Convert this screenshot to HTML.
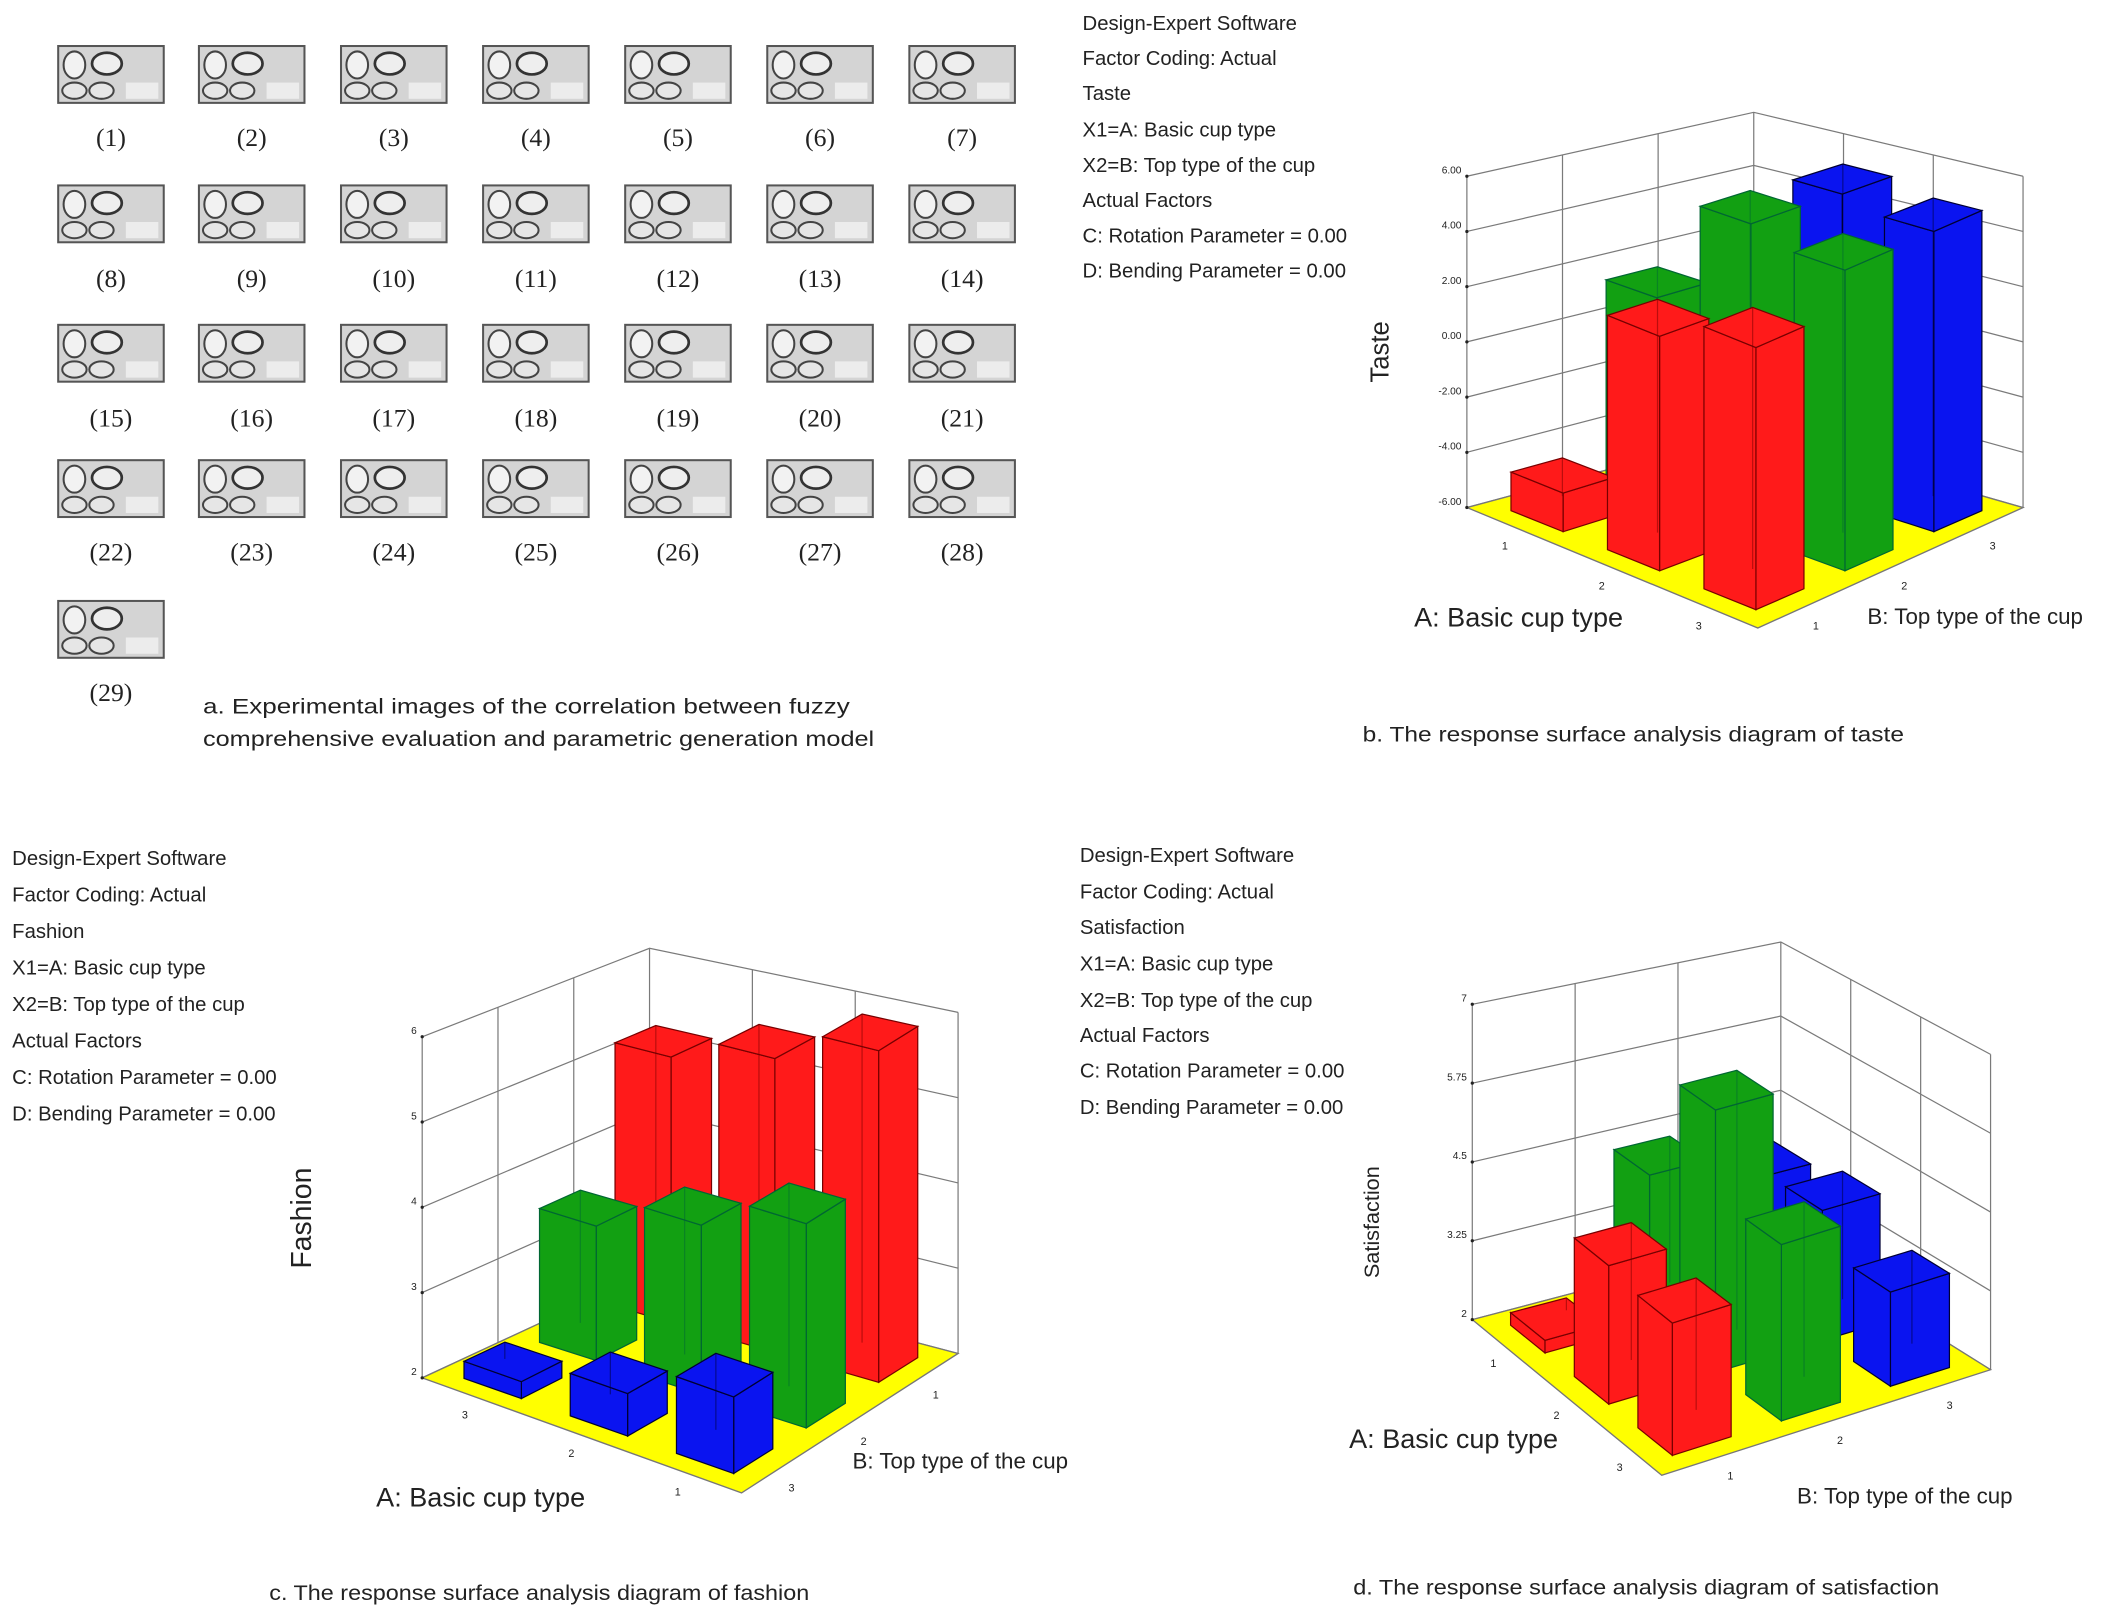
<!DOCTYPE html>
<html><head><meta charset="utf-8">
<style>
html,body{margin:0;padding:0;background:#fff;}
svg{display:block;}
text{font-family:"Liberation Sans",sans-serif;fill:#222;}
.serif{font-family:"Liberation Serif",serif;}
</style></head>
<body>
<svg id="root" width="2111" height="1612" viewBox="0 0 1560 1191" preserveAspectRatio="none" xmlns="http://www.w3.org/2000/svg">
<rect x="0" y="0" width="1560" height="1191" fill="#fff"/>
<g id="thumbs"></g>
<g>
<text x="150" y="527" font-size="16" textLength="478" lengthAdjust="spacingAndGlyphs">a. Experimental images of the correlation between fuzzy</text>
<text x="150" y="551" font-size="16" textLength="496" lengthAdjust="spacingAndGlyphs">comprehensive evaluation and parametric generation model</text>
</g>
<text x="1007" y="548" font-size="16" textLength="400" lengthAdjust="spacingAndGlyphs">b. The response surface analysis diagram of taste</text>
<text x="199" y="1182" font-size="16" textLength="399" lengthAdjust="spacingAndGlyphs">c. The response surface analysis diagram of fashion</text>
<text x="1000" y="1178" font-size="16" textLength="433" lengthAdjust="spacingAndGlyphs">d. The response surface analysis diagram of satisfaction</text>

<g font-size="15">
<text x="800" y="22">Design-Expert Software</text><text x="800" y="48">Factor Coding: Actual</text><text x="800" y="74">Taste</text><text x="800" y="101">X1=A: Basic cup type</text><text x="800" y="127">X2=B: Top type of the cup</text><text x="800" y="153">Actual Factors</text><text x="800" y="179">C: Rotation Parameter = 0.00</text><text x="800" y="205">D: Bending Parameter = 0.00</text>
</g>
<g font-size="15">
<text x="9" y="639">Design-Expert Software</text><text x="9" y="666">Factor Coding: Actual</text><text x="9" y="693">Fashion</text><text x="9" y="720">X1=A: Basic cup type</text><text x="9" y="747">X2=B: Top type of the cup</text><text x="9" y="774">Actual Factors</text><text x="9" y="801">C: Rotation Parameter = 0.00</text><text x="9" y="828">D: Bending Parameter = 0.00</text>
</g>
<g font-size="15">
<text x="798" y="637">Design-Expert Software</text><text x="798" y="664">Factor Coding: Actual</text><text x="798" y="690">Satisfaction</text><text x="798" y="717">X1=A: Basic cup type</text><text x="798" y="744">X2=B: Top type of the cup</text><text x="798" y="770">Actual Factors</text><text x="798" y="796">C: Rotation Parameter = 0.00</text><text x="798" y="823">D: Bending Parameter = 0.00</text>
</g>

<text transform="translate(1026,260) rotate(-90)" font-size="19" text-anchor="middle">Taste</text>
<text x="1045" y="463" font-size="20">A: Basic cup type</text>
<text x="1380" y="461" font-size="16.5">B: Top type of the cup</text>
<text transform="translate(230,900) rotate(-90)" font-size="21" text-anchor="middle">Fashion</text>
<text x="278" y="1113" font-size="20">A: Basic cup type</text>
<text x="630" y="1085" font-size="16.5">B: Top type of the cup</text>
<text transform="translate(1019,903) rotate(-90)" font-size="16" text-anchor="middle">Satisfaction</text>
<text x="997" y="1070" font-size="20">A: Basic cup type</text>
<text x="1328" y="1111" font-size="16.5">B: Top type of the cup</text>

<g id="chartB"></g>
<g id="chartC"></g>
<g id="chartD"></g>
</svg>
<script>
// ---- data ----
const tasteTicks = [-6, -4, -2, 0, 2, 4, 6];
const tasteTickLabels = ["-6.00","-4.00","-2.00","0.00","2.00","4.00","6.00"];
const tasteALabels = ["1","2","3"];
const tasteBLabels = ["1","2","3"];
const tasteRow1 = [-4.6, 2.5, 3.5];   // red
const tasteRow2 = [1.5, 5.4, 4.9];    // green
const tasteRow3 = [1.0, 5.3, 4.9];    // blue

const fashionTicks = [2, 3, 4, 5, 6];
const fashionTickLabels = ["2","3","4","5","6"];
const fashionALabels = ["3","2","1"];
const fashionBLabels = ["3","2","1"];
const fashionRow1 = [2.2, 2.5, 2.9];  // blue
const fashionRow2 = [3.6, 4.0, 4.4];  // green
const fashionRow3 = [5.2, 5.5, 5.9];  // red

const satTicks = [2, 3.25, 4.5, 5.75, 7];
const satTickLabels = ["2","3.25","4.5","5.75","7"];
const satALabels = ["1","2","3"];
const satBLabels = ["1","2","3"];
const satRow1 = [2.2, 4.2, 4.1];      // red
const satRow2 = [4.4, 6.2, 4.8];      // green
const satRow3 = [3.9, 4.1, 3.5];      // blue

const NS = "http://www.w3.org/2000/svg";
function mk(tag, attrs, parent){ const e=document.createElementNS(NS,tag); for(const k in attrs) e.setAttribute(k,attrs[k]); parent.appendChild(e); return e; }

// ---- thumbnails ----
const thumbs = document.getElementById('thumbs');
const colX=[43,147,252,357,462,567,672], rowY=[34,137,240,340,444], labY=[108,212,315,414,518];
for(let n=0;n<29;n++){
  const r=Math.floor(n/7), c=n%7, x=colX[c], y=rowY[r];
  const g=mk('g',{},thumbs);
  
  
  mk('rect',{x:x,y:y,width:78,height:42,fill:'#d4d4d4',stroke:'#555','stroke-width':1.5},g);
  mk('ellipse',{cx:x+12,cy:y+14,rx:8,ry:10,fill:'#f2f2f2',stroke:'#444','stroke-width':1.5},g);
  mk('ellipse',{cx:x+36,cy:y+13,rx:11,ry:8,fill:'#eee',stroke:'#333','stroke-width':2},g);
  mk('ellipse',{cx:x+12,cy:y+33,rx:9,ry:6,fill:'#e6e6e6',stroke:'#444','stroke-width':1.5},g);
  mk('ellipse',{cx:x+32,cy:y+33,rx:9,ry:6,fill:'#e6e6e6',stroke:'#444','stroke-width':1.5},g);
  mk('rect',{x:x+50,y:y+27,width:24,height:12,fill:'#ececec'},g);
  const t=mk('text',{x:x+39,y:labY[r],'font-size':19,'text-anchor':'middle','class':'serif'},thumbs);
  t.textContent='('+(n+1)+')';
  
  
}

// ---- 3D bar chart (bilinear floor) ----
function chart3d(gid, cfg){
  const g=document.getElementById(gid);
  const L=cfg.L,F=cfg.F,R=cfg.R,K=cfg.K;
  const zmin=cfg.ticks[0], zmax=cfg.ticks[cfg.ticks.length-1];
  const P=(fi,fj,z)=>{
    const wL=(1-fi)*(1-fj), wF=fi*(1-fj), wR=fi*fj, wK=(1-fi)*fj;
    const x=wL*L[0]+wF*F[0]+wR*R[0]+wK*K[0];
    const y=wL*L[1]+wF*F[1]+wR*R[1]+wK*K[1];
    const s=wL+wF+wR+wK*cfg.kScale;
    return [x, y-(z-zmin)*cfg.ppu*s];
  };
  const pts=a=>a.map(p=>p[0].toFixed(1)+','+p[1].toFixed(1)).join(' ');
  const wg=mk('g',{stroke:'#7a7a7a','stroke-width':0.9,fill:'none'},g);
  
  
  cfg.ticks.forEach(t=>{
    const l=mk('polyline',{points:pts([P(0,0,t),P(0,1,t),P(1,1,t)])},wg);
    
    
  });
  [[0,0],[0,1/3],[0,2/3],[0,1],[1/3,1],[2/3,1],[1,1]].forEach(c=>{
    const a=P(c[0],c[1],zmin), b=P(c[0],c[1],zmax);
    mk('line',{x1:a[0],y1:a[1],x2:b[0],y2:b[1]},wg);
  });
  const fl=mk('polygon',{points:pts([P(0,0,zmin),P(1,0,zmin),P(1,1,zmin),P(0,1,zmin)]),fill:'#ffff00',stroke:'#777','stroke-width':1},g);
  
  
  cfg.ticks.forEach((t,k)=>{
    const p=P(0,0,t);
    const tx=mk('text',{x:p[0]-4,y:p[1]-2,'font-size':7.5,'text-anchor':'end',fill:'#444'},g);
    tx.textContent=cfg.tickLabels[k];
    
    
    mk('circle',{cx:p[0],cy:p[1],r:1.2,fill:'#222'},g);
  });
  for(let i=0;i<3;i++){
    const p=P((i+0.5)/3,0,zmin);
    const tx=mk('text',{x:p[0]-10,y:p[1]+16,'font-size':8,fill:'#444'},g);
    tx.textContent=cfg.aLabels[i];
    
    
    const q=P(1,(i+0.5)/3,zmin);
    const ty=mk('text',{x:q[0]+8,y:q[1]+16,'font-size':8,fill:'#444'},g);
    ty.textContent=cfg.bLabels[i];
    
    
  }
  const bars=[];
  cfg.rows.forEach((row,j)=>row.forEach((v,i)=>bars.push({i,j,v})));
  bars.sort((a,b)=>(a.i-a.j)-(b.i-b.j));
  const w=0.27/3;
  bars.forEach(b=>{
    const ci=(b.i+0.5)/3, cj=(b.j+0.5)/3, col=cfg.colors[b.j], dk=cfg.dark[b.j];
    const bg=mk('g',{stroke:dk,'stroke-width':0.9},g);
    
    
    const z0=zmin, z1=b.v;
    mk('polygon',{points:pts([P(ci+w,cj-w,z0),P(ci+w,cj+w,z0),P(ci+w,cj+w,z1),P(ci+w,cj-w,z1)]),fill:col},bg);
    mk('polygon',{points:pts([P(ci-w,cj-w,z0),P(ci+w,cj-w,z0),P(ci+w,cj-w,z1),P(ci-w,cj-w,z1)]),fill:col},bg);
    mk('polygon',{points:pts([P(ci-w,cj-w,z1),P(ci+w,cj-w,z1),P(ci+w,cj+w,z1),P(ci-w,cj+w,z1)]),fill:col},bg);
    const a=P(ci-w,cj+w,z1), c=P(ci-w,cj+w,z0);
    mk('line',{x1:a[0],y1:a[1],x2:c[0],y2:c[1],'stroke-opacity':0.5},bg);
  });
}
chart3d('chartB',{L:[1084,375],F:[1299,464],R:[1495,375],K:[1296,318],kScale:0.96,ppu:20.4,ticks:tasteTicks,tickLabels:tasteTickLabels,
  aLabels:tasteALabels,bLabels:tasteBLabels,rows:[tasteRow1,tasteRow2,tasteRow3],
  colors:['#ff1a1a','#12a012','#0a14f0'],dark:['#700','#063','#003']});
chart3d('chartC',{L:[312,1018],F:[548,1103],R:[708,1000],K:[480,940],kScale:0.95,ppu:63,ticks:fashionTicks,tickLabels:fashionTickLabels,
  aLabels:fashionALabels,bLabels:fashionBLabels,rows:[fashionRow1,fashionRow2,fashionRow3],
  colors:['#0a14f0','#12a012','#ff1a1a'],dark:['#003','#063','#700']});
chart3d('chartD',{L:[1088,975],F:[1228,1090],R:[1471,1012],K:[1316,915],kScale:0.94,ppu:46.6,ticks:satTicks,tickLabels:satTickLabels,
  aLabels:satALabels,bLabels:satBLabels,rows:[satRow1,satRow2,satRow3],
  colors:['#ff1a1a','#12a012','#0a14f0'],dark:['#700','#063','#003']});
</script>
</body></html>
